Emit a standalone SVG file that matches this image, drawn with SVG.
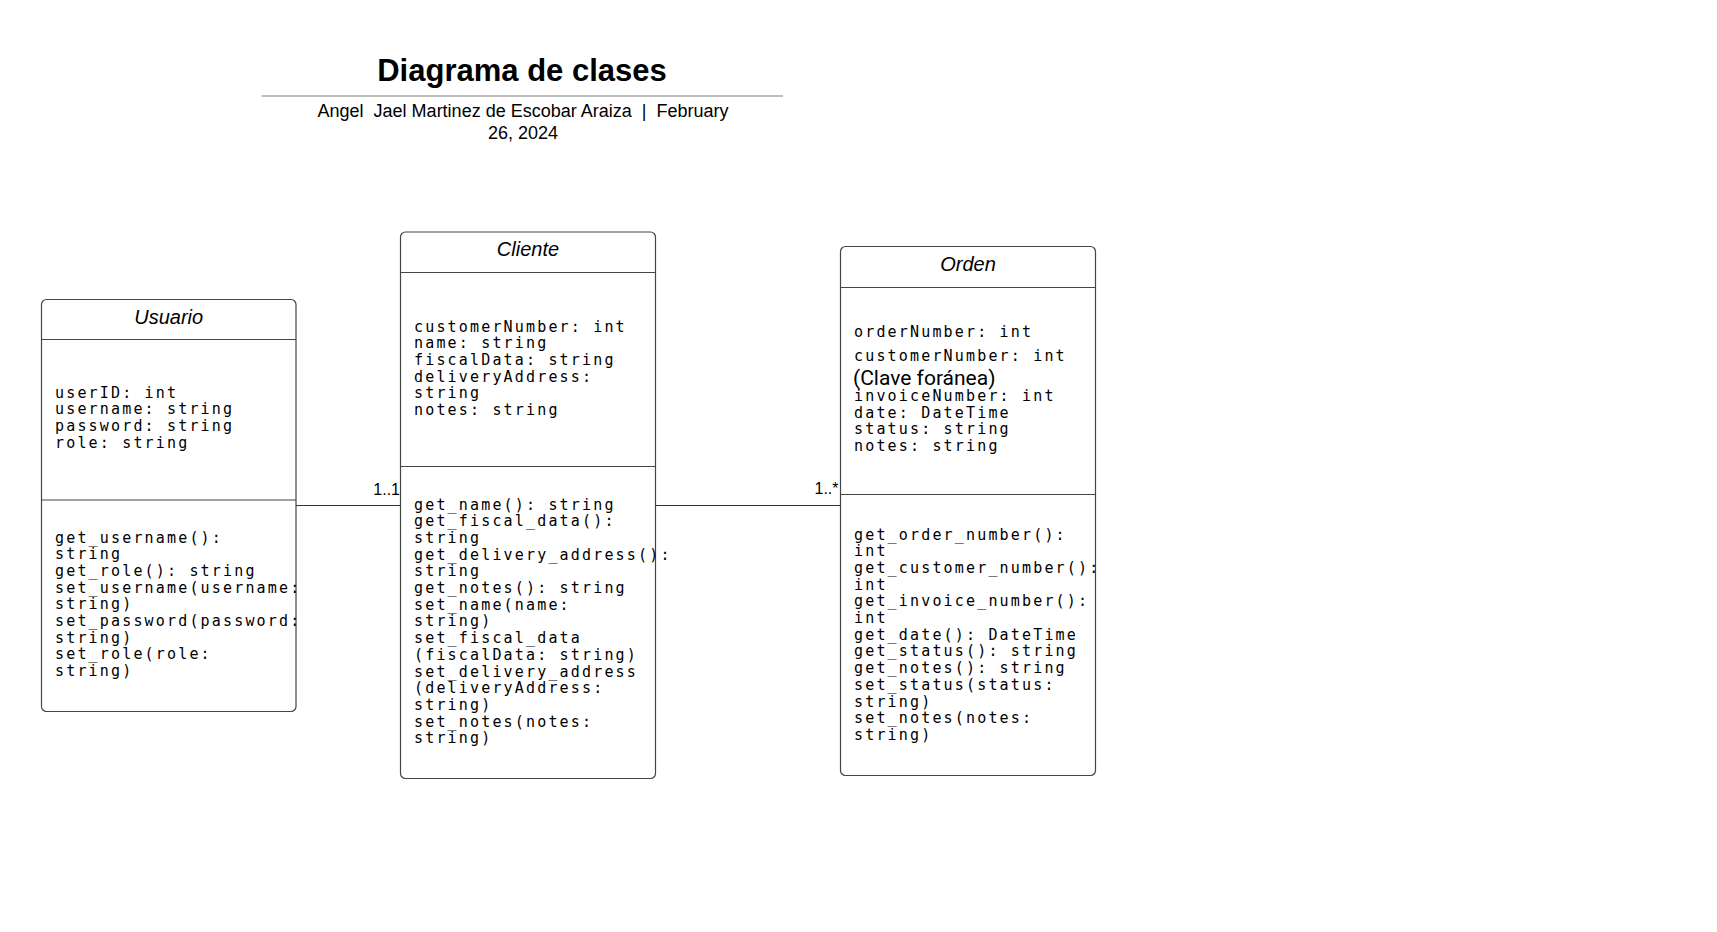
<svg xmlns="http://www.w3.org/2000/svg" width="1717" height="932" viewBox="0 0 1717 932">
<style>
.box{fill:#fff;stroke:#444;stroke-width:1.2}
.div{stroke:#444;stroke-width:1.2;fill:none}
.name{font-family:"Liberation Sans",Arial,sans-serif;font-style:italic;font-size:20px;fill:#000;text-anchor:middle}
.mono{font-family:"DejaVu Sans Mono",monospace;font-size:15px;letter-spacing:2.17px;fill:#000}
.note{font-family:Roboto,"Noto Sans",sans-serif;font-size:21px;fill:#000}
.conn{stroke:#333;stroke-width:1.2;fill:none}
.mult{font-family:"Liberation Sans",Arial,sans-serif;font-size:16px;fill:#000;text-anchor:end}
</style>
<rect width="1717" height="932" fill="#fff"/>
<g id="title">
<text x="522" y="80.5" font-family="Liberation Sans, Arial, sans-serif" font-weight="bold" font-size="31" text-anchor="middle" fill="#000">Diagrama de clases</text>
<line x1="261.5" y1="96" x2="783" y2="96" stroke="#aaa" stroke-width="1.5"/>
<text x="523" y="117" font-family="Liberation Sans, Arial, sans-serif" font-size="18" text-anchor="middle" fill="#000" xml:space="preserve" style="white-space:pre">Angel  Jael Martinez de Escobar Araiza  |  February</text>
<text x="523" y="138.5" font-family="Liberation Sans, Arial, sans-serif" font-size="18" text-anchor="middle" fill="#000">26, 2024</text>
</g>
<g id="connectors">
<line class="conn" x1="296" y1="505.5" x2="400.5" y2="505.5"/>
<line class="conn" x1="655.5" y1="505.5" x2="840.5" y2="505.5"/>
<text class="mult" x="400" y="494.5">1..1</text>
<text class="mult" x="838.5" y="494">1..*</text>
</g>
<g id="usuario">
<rect class="box" x="41.5" y="299.5" width="254.5" height="412" rx="5"/>
<line class="div" x1="41.5" y1="339.5" x2="296" y2="339.5"/>
<line class="div" x1="41.5" y1="500" x2="296" y2="500"/>
<text class="name" x="168.7" y="323.5">Usuario</text>
<text class="mono" x="55" y="397.5"><tspan x="55">userID: int</tspan><tspan x="55" dy="16.7">username: string</tspan><tspan x="55" dy="16.7">password: string</tspan><tspan x="55" dy="16.7">role: string</tspan></text>
<text class="mono" x="55" y="542.5"><tspan x="55">get_username():</tspan><tspan x="55" dy="16.7">string</tspan><tspan x="55" dy="16.7">get_role(): string</tspan><tspan x="55" dy="16.7">set_username(username:</tspan><tspan x="55" dy="16.7">string)</tspan><tspan x="55" dy="16.7">set_password(password:</tspan><tspan x="55" dy="16.7">string)</tspan><tspan x="55" dy="16.7">set_role(role:</tspan><tspan x="55" dy="16.7">string)</tspan></text>
</g>
<g id="cliente">
<rect class="box" x="400.5" y="232" width="255" height="546.5" rx="5"/>
<line class="div" x1="400.5" y1="272.5" x2="655.5" y2="272.5"/>
<line class="div" x1="400.5" y1="466.5" x2="655.5" y2="466.5"/>
<text class="name" x="528" y="256">Cliente</text>
<text class="mono" x="414" y="331.5"><tspan x="414">customerNumber: int</tspan><tspan x="414" dy="16.7">name: string</tspan><tspan x="414" dy="16.7">fiscalData: string</tspan><tspan x="414" dy="16.7">deliveryAddress:</tspan><tspan x="414" dy="16.7">string</tspan><tspan x="414" dy="16.7">notes: string</tspan></text>
<text class="mono" x="414" y="509.5"><tspan x="414">get_name(): string</tspan><tspan x="414" dy="16.7">get_fiscal_data():</tspan><tspan x="414" dy="16.7">string</tspan><tspan x="414" dy="16.7">get_delivery_address():</tspan><tspan x="414" dy="16.7">string</tspan><tspan x="414" dy="16.7">get_notes(): string</tspan><tspan x="414" dy="16.7">set_name(name:</tspan><tspan x="414" dy="16.7">string)</tspan><tspan x="414" dy="16.7">set_fiscal_data</tspan><tspan x="414" dy="16.7">(fiscalData: string)</tspan><tspan x="414" dy="16.7">set_delivery_address</tspan><tspan x="414" dy="16.7">(deliveryAddress:</tspan><tspan x="414" dy="16.7">string)</tspan><tspan x="414" dy="16.7">set_notes(notes:</tspan><tspan x="414" dy="16.7">string)</tspan></text>
</g>
<g id="orden">
<rect class="box" x="840.5" y="246.5" width="255" height="529" rx="5"/>
<line class="div" x1="840.5" y1="287.5" x2="1095.5" y2="287.5"/>
<line class="div" x1="840.5" y1="494.5" x2="1095.5" y2="494.5"/>
<text class="name" x="968" y="270.5">Orden</text>
<text class="mono" x="854" y="336.7">orderNumber: int</text>
<text class="mono" x="854" y="360.5">customerNumber: int</text>
<text class="note" x="853" y="385">(Clave foránea)</text>
<text class="mono" x="854" y="401"><tspan x="854">invoiceNumber: int</tspan><tspan x="854" dy="16.7">date: DateTime</tspan><tspan x="854" dy="16.7">status: string</tspan><tspan x="854" dy="16.7">notes: string</tspan></text>
<text class="mono" x="854" y="539.5"><tspan x="854">get_order_number():</tspan><tspan x="854" dy="16.7">int</tspan><tspan x="854" dy="16.7">get_customer_number():</tspan><tspan x="854" dy="16.7">int</tspan><tspan x="854" dy="16.7">get_invoice_number():</tspan><tspan x="854" dy="16.7">int</tspan><tspan x="854" dy="16.7">get_date(): DateTime</tspan><tspan x="854" dy="16.7">get_status(): string</tspan><tspan x="854" dy="16.7">get_notes(): string</tspan><tspan x="854" dy="16.7">set_status(status:</tspan><tspan x="854" dy="16.7">string)</tspan><tspan x="854" dy="16.7">set_notes(notes:</tspan><tspan x="854" dy="16.7">string)</tspan></text>
</g>
</svg>
